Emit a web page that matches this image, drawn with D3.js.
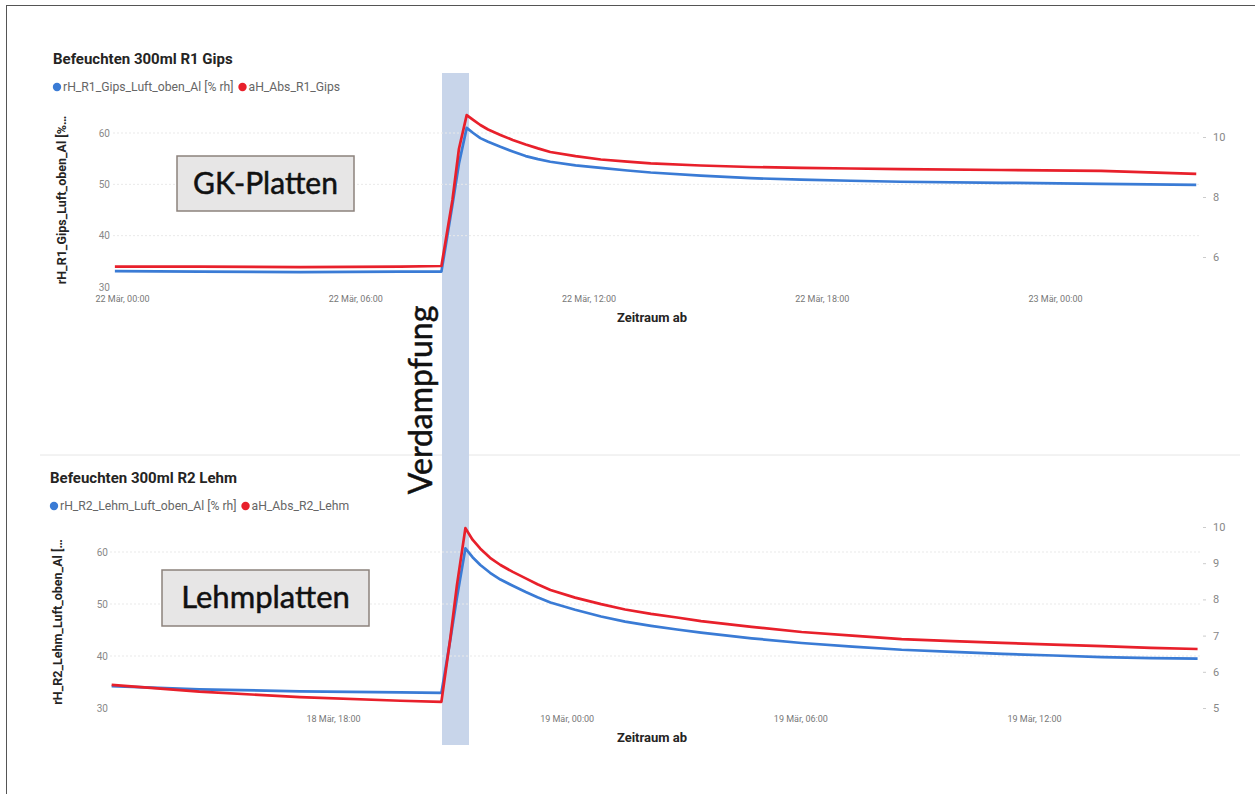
<!DOCTYPE html>
<html><head><meta charset="utf-8">
<script src="https://cdn.jsdelivr.net/npm/d3@7/dist/d3.min.js"></script>
<style>
html,body{margin:0;padding:0;background:#fff;}
svg{display:block;font-family:Roboto,"Noto Sans",sans-serif;}
</style></head>
<body><svg id="c" width="1255" height="794"></svg>
<script>
// ---------- DATA ----------
const topTitle = "Befeuchten 300ml R1 Gips";
const topSeriesNames = ["rH_R1_Gips_Luft_oben_Al [% rh]", "aH_Abs_R1_Gips"];
const topYLabel = "rH_R1_Gips_Luft_oben_Al [%…";
const topTimes = ["2023-03-21T23:49","2023-03-22T02:00","2023-03-22T04:35","2023-03-22T07:10","2023-03-22T08:13","2023-03-22T08:30","2023-03-22T08:40","2023-03-22T08:52","2023-03-22T09:02","2023-03-22T09:13","2023-03-22T09:25","2023-03-22T09:44","2023-03-22T10:03","2023-03-22T10:23","2023-03-22T10:42","2023-03-22T11:01","2023-03-22T11:40","2023-03-22T12:19","2023-03-22T13:00","2023-03-22T13:36","2023-03-22T14:53","2023-03-22T16:10","2023-03-22T17:28","2023-03-22T18:45","2023-03-22T20:02","2023-03-22T22:37","2023-03-23T01:11","2023-03-23T03:38"];
const topRH = [33.1,33.0,32.9,33.0,33.0,46,54,61,60.0,59.0,58.3,57.3,56.4,55.5,54.9,54.4,53.7,53.2,52.7,52.3,51.7,51.2,50.9,50.7,50.5,50.3,50.1,49.9];
const topAH = [5.68,5.68,5.66,5.68,5.70,7.9,9.6,10.73,10.57,10.4,10.25,10.07,9.9,9.75,9.62,9.5,9.36,9.25,9.18,9.12,9.05,9.0,8.97,8.95,8.93,8.9,8.87,8.77];
const topXTicks = ["2023-03-22T00:00","2023-03-22T06:00","2023-03-22T12:00","2023-03-22T18:00","2023-03-23T00:00"];
const topLeftTicks = [30,40,50,60];
const topRightTicks = [6,8,10];

const botTitle = "Befeuchten 300ml R2 Lehm";
const botSeriesNames = ["rH_R2_Lehm_Luft_oben_Al [% rh]", "aH_Abs_R2_Lehm"];
const botYLabel = "rH_R2_Lehm_Luft_oben_Al […";
const botTimes = ["2023-03-18T12:19","2023-03-18T14:34","2023-03-18T17:09","2023-03-18T19:44","2023-03-18T20:47","2023-03-18T21:01","2023-03-18T21:11","2023-03-18T21:24","2023-03-18T21:35","2023-03-18T21:47","2023-03-18T22:02","2023-03-18T22:18","2023-03-18T22:37","2023-03-18T22:57","2023-03-18T23:15","2023-03-18T23:35","2023-03-19T00:13","2023-03-19T00:53","2023-03-19T01:30","2023-03-19T02:10","2023-03-19T02:50","2023-03-19T03:27","2023-03-19T04:45","2023-03-19T06:02","2023-03-19T07:20","2023-03-19T08:36","2023-03-19T09:55","2023-03-19T11:11","2023-03-19T12:30","2023-03-19T13:45","2023-03-19T15:00","2023-03-19T16:12"];
const botRH = [34.2,33.6,33.2,33.0,32.9,43.3,51.3,60.7,59.0,57.5,56.0,54.7,53.5,52.3,51.3,50.3,48.9,47.6,46.6,45.8,45.1,44.5,43.4,42.5,41.8,41.2,40.8,40.4,40.1,39.8,39.6,39.5];
const botAH = [5.64,5.45,5.3,5.2,5.17,6.96,8.4,9.97,9.65,9.4,9.15,8.95,8.76,8.58,8.42,8.26,8.05,7.87,7.72,7.6,7.5,7.4,7.24,7.1,7.0,6.9,6.85,6.8,6.75,6.71,6.66,6.63];
const botXTicks = ["2023-03-18T18:00","2023-03-19T00:00","2023-03-19T06:00","2023-03-19T12:00"];
const botLeftTicks = [30,40,50,60];
const botRightTicks = [5,6,7,8,9,10];

const xAxisTitle = "Zeitraum ab";
const bandLabel = "Verdampfung";
const topBoxLabel = "GK-Platten";
const botBoxLabel = "Lehmplatten";

// ---------- DRAW ----------
const svg = d3.select("#c");
const BLUE = "#3a7bd5", RED = "#e8202b";
const parse = d3.isoParse;
const fmt = d => `${d.getDate()} Mär, ${d3.timeFormat("%H:%M")(d)}`;

svg.append("line").attr("x1",6).attr("x2",1255).attr("y1",5.5).attr("y2",5.5).attr("stroke","#555").attr("stroke-width",1);
svg.append("line").attr("x1",6.5).attr("x2",6.5).attr("y1",5).attr("y2",794).attr("stroke","#555").attr("stroke-width",1);
svg.append("line").attr("x1",40).attr("x2",1240).attr("y1",455).attr("y2",455).attr("stroke","#e6e6e6");

const band = svg.append("g");

function panel(cfg){
  const g = svg.append("g");
  const x = d3.scaleTime().domain([parse(cfg.xTicks[0]), parse(cfg.xTicks[1])]).range(cfg.xr);
  const yL = d3.scaleLinear().domain(cfg.lDom).range(cfg.lRange);
  const yR = d3.scaleLinear().domain(cfg.rDom).range(cfg.rRange);

  g.append("text").attr("x",cfg.titleX).attr("y",cfg.titleY).attr("font-size",15).attr("font-weight",700).attr("fill","#252423").text(cfg.title);
  const lg = g.append("g").attr("transform",`translate(${cfg.titleX+4},${cfg.titleY+27})`);
  lg.append("circle").attr("cx",0).attr("cy",-4).attr("r",4.2).attr("fill",BLUE);
  const t1 = lg.append("text").attr("x",6).attr("y",0).attr("font-size",12.2).attr("fill","#666").text(cfg.names[0]);
  const w1 = t1.node().getComputedTextLength();
  lg.append("circle").attr("cx",w1+15).attr("cy",-4).attr("r",4.2).attr("fill",RED);
  lg.append("text").attr("x",w1+21).attr("y",0).attr("font-size",12.2).attr("fill","#666").text(cfg.names[1]);

  g.append("g").selectAll("line").data(cfg.lTicks.slice(1)).join("line")
    .attr("x1",cfg.plotX[0]).attr("x2",cfg.plotX[1]).attr("y1",d=>yL(d)).attr("y2",d=>yL(d))
    .attr("stroke","#e9e9e9").attr("stroke-dasharray","2,2");

  const la = g.append("g").attr("transform",`translate(${cfg.lAxisX},0)`)
    .call(d3.axisLeft(yL).tickValues(cfg.lTicks).tickSize(0).tickPadding(0));
  la.select(".domain").remove();
  la.selectAll("text").attr("font-size",10).attr("fill","#888").attr("font-family","Roboto");
  const ra = g.append("g").attr("transform",`translate(${cfg.rAxisX},0)`)
    .call(d3.axisRight(yR).tickValues(cfg.rTicks).tickFormat(d3.format("d")).tickSize(3).tickPadding(7));
  ra.select(".domain").remove();
  ra.selectAll("line").attr("stroke","#ccc");
  ra.selectAll("text").attr("font-size",11).attr("fill","#888").attr("font-family","Roboto");
  const xa = g.append("g").attr("transform",`translate(0,${cfg.xAxisY})`)
    .call(d3.axisBottom(x).tickValues(cfg.xTickVals.map(parse)).tickFormat(fmt).tickSize(0).tickPadding(6));
  xa.select(".domain").remove();
  xa.selectAll("text").attr("font-size",9).attr("fill","#777").attr("font-family","Roboto");

  g.append("text").attr("x",652).attr("y",cfg.xTitleY).attr("text-anchor","middle").attr("font-size",13).attr("font-weight",700).attr("fill","#252423").text(xAxisTitle);
  g.append("text").attr("transform",`translate(${cfg.yLabX},${cfg.yLabY}) rotate(-90)`).attr("text-anchor","middle")
    .attr("font-size",12.5).attr("font-weight",700).attr("fill","#252423").text(cfg.yLabel);

  const times = cfg.times.map(parse);
  const lineL = d3.line().x((d,i)=>x(times[i])).y(d=>yL(d));
  const lineR = d3.line().x((d,i)=>x(times[i])).y(d=>yR(d));
  g.append("path").datum(cfg.rh).attr("d",lineL).attr("fill","none").attr("stroke",BLUE).attr("stroke-width",2.7).attr("stroke-linejoin","round");
  g.append("path").datum(cfg.ah).attr("d",lineR).attr("fill","none").attr("stroke",RED).attr("stroke-width",2.7).attr("stroke-linejoin","round");

  const bg = svg.append("g");
  bg.append("rect").attr("x",cfg.box[0]).attr("y",cfg.box[1]).attr("width",cfg.box[2]).attr("height",cfg.box[3])
    .attr("fill","#e7e6e6").attr("stroke","#8c827c").attr("stroke-width",1.5);
  bg.append("text").attr("x",cfg.box[0]+cfg.box[2]/2).attr("y",cfg.box[1]+cfg.box[3]/2+10).attr("text-anchor","middle")
    .attr("font-family","Lato,'Open Sans',sans-serif").attr("font-size",cfg.boxFont).attr("fill","#111")
    .attr("stroke","#111").attr("stroke-width",0.5).text(cfg.boxLabel);
}

panel({
  title: topTitle, names: topSeriesNames, yLabel: topYLabel, titleX:53, titleY:64,
  xTicks:[topXTicks[0], topXTicks[4]], xr:[122,1055], xTickVals: topXTicks,
  lDom:[30,60], lRange:[287,133], rDom:[6,10], rRange:[257,137],
  lTicks: topLeftTicks, rTicks: topRightTicks, plotX:[113,1200],
  lAxisX:110, rAxisX:1203, xAxisY:290, xTitleY:322, yLabX:66, yLabY:200,
  times: topTimes, rh: topRH, ah: topAH,
  box:[177,156,177,55], boxFont:30, boxLabel: topBoxLabel
});
panel({
  title: botTitle, names: botSeriesNames, yLabel: botYLabel, titleX:50, titleY:483,
  xTicks:[botXTicks[0], botXTicks[3]], xr:[333,1034], xTickVals: botXTicks,
  lDom:[30,60], lRange:[708,552], rDom:[5,10], rRange:[708,527],
  lTicks: botLeftTicks, rTicks: botRightTicks, plotX:[110,1200],
  lAxisX:108, rAxisX:1203, xAxisY:710, xTitleY:742, yLabX:62, yLabY:622,
  times: botTimes, rh: botRH, ah: botAH,
  box:[162,570,207,56], boxFont:31, boxLabel: botBoxLabel
});

band.append("rect").attr("x",442).attr("y",73).attr("width",27).attr("height",672).attr("fill","#c8d5ea");
svg.append("text").attr("transform","translate(432,400) rotate(-90)").attr("text-anchor","middle")
  .attr("font-family","Lato,'Open Sans',sans-serif").attr("font-size",32).attr("fill","#111")
  .attr("stroke","#111").attr("stroke-width",0.5).text(bandLabel);
</script></body></html>
